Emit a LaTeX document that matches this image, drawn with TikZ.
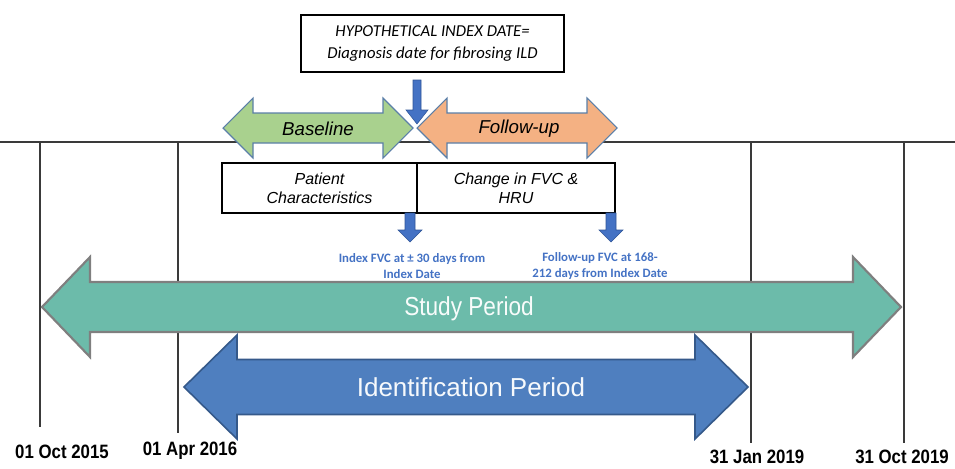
\documentclass[tikz,border=0pt]{standalone}
\usepackage{fontspec}
\setmainfont{Liberation Sans}
\newfontfamily\calfont{Carlito}
\newfontfamily\narrowfont[FakeStretch=0.87]{Liberation Sans}
\definecolor{gfill}{HTML}{A9D18E}
\definecolor{ofill}{HTML}{F4B183}
\definecolor{aedge}{HTML}{5B7FA8}
\definecolor{tfill}{HTML}{6CBBAA}
\definecolor{tedge}{HTML}{7F7F7F}
\definecolor{ifill}{HTML}{4F7FBF}
\definecolor{iedge}{HTML}{35598A}
\definecolor{bfill}{HTML}{4472C4}
\definecolor{bedge}{HTML}{2F5597}
\definecolor{btext}{HTML}{4472C4}
\definecolor{lgray}{HTML}{3A3A3A}
\newcommand\mydblarrow[7]{% style, xl, xr, yc, H, S, L
  \filldraw[#1] (#2,#4) -- (#2+#7,#4-#5) -- (#2+#7,#4-#6) -- (#3-#7,#4-#6) -- (#3-#7,#4-#5)
   -- (#3,#4) -- (#3-#7,#4+#5) -- (#3-#7,#4+#6) -- (#2+#7,#4+#6) -- (#2+#7,#4+#5) -- cycle;}
\newcommand\mydownarrow[6]{% xc, ytop, yhb, ytip, s, h
  \filldraw[smallarr] (#1-#5,#2) -- (#1+#5,#2) -- (#1+#5,#3) -- (#1+#6,#3) -- (#1,#4)
   -- (#1-#6,#3) -- (#1-#5,#3) -- cycle;}
\tikzset{
  tline/.style={draw=lgray, line width=0.9pt},
  smallarr/.style={fill=bfill, draw=bedge, line width=0.4pt},
  wbox/.style={draw=black, line width=0.8pt, fill=white, inner sep=0pt, align=center},
  datelbl/.style={font=\narrowfont\bfseries\fontsize{14.5}{17}\selectfont, inner sep=0pt},
  bluelbl/.style={font=\calfont\bfseries\fontsize{9.6}{12}\selectfont, text=btext, align=center, inner sep=0pt},
}
\begin{document}
\begin{tikzpicture}[x=0.75pt, y=-0.75pt]
\useasboundingbox (0,0) rectangle (955,468);
% timeline
\draw[tline] (0,142) -- (955,142);
\draw[tline] (40,142) -- (40,427);
\draw[tline] (178,142) -- (178,433);
\draw[tline] (751,142) -- (751,443);
\draw[tline] (904,142) -- (904,443);
% top box
\node[wbox, minimum width=197.25pt, minimum height=42.75pt,
      font=\calfont\itshape\fontsize{12.5}{16.5}\selectfont] (top) at (432.5,43.5)
  {HYPOTHETICAL INDEX DATE=\\Diagnosis date for fibrosing ILD};
\mydownarrow{417}{80}{110}{124}{4}{11}
% baseline and follow-up
\mydblarrow{fill=gfill, draw=aedge, line width=0.8pt}{223}{413}{128}{30}{15}{30}
\mydblarrow{fill=ofill, draw=aedge, line width=0.8pt}{417}{617}{128}{30}{15}{30}
\node[font=\itshape\fontsize{14}{16}\selectfont] (base) at (318,129) {Baseline};
\node[font=\itshape\fontsize{14}{16}\selectfont] (fup) at (519,129) {Follow-up};
% boxes
\node[wbox, minimum width=146.25pt, minimum height=37.5pt,
      font=\itshape\fontsize{12}{14.3}\selectfont] (pat) at (319.5,188)
  {Patient\\Characteristics};
\node[wbox, minimum width=148.5pt, minimum height=37.5pt,
      font=\itshape\fontsize{12}{14.3}\selectfont] (chg) at (516,188)
  {Change in FVC \&\\HRU};
\mydownarrow{410}{213}{230}{242}{5}{12}
\mydownarrow{611}{213}{230}{242}{5}{12}
\node[bluelbl] (ifvc) at (412,266) {Index FVC at ± 30 days from\\Index Date};
\node[bluelbl] (ffvc) at (600,266) {Follow-up FVC at 168-\\212 days from Index Date};
% study period
\mydblarrow{fill=tfill, draw=tedge, line width=1.6pt}{42}{901}{307}{50}{25}{48}
\node[font=\narrowfont\fontsize{19.5}{22}\selectfont, text=white!95!tfill] (study) at (469,309) {Study Period};
% identification period
\mydblarrow{fill=ifill, draw=iedge, line width=1.2pt}{184}{748}{387}{52}{27.5}{53}
\node[font=\fontsize{19.5}{22}\selectfont, text=white!95!ifill] (ident) at (471,387) {Identification Period};
% dates
\node[datelbl] (d1) at (62,452) {01 Oct 2015};
\node[datelbl] (d2) at (190,451) {01 Apr 2016};
\node[datelbl] (d3) at (757,457) {31 Jan 2019};
\node[datelbl] (d4) at (902,457) {31 Oct 2019};
\end{tikzpicture}
\end{document}
